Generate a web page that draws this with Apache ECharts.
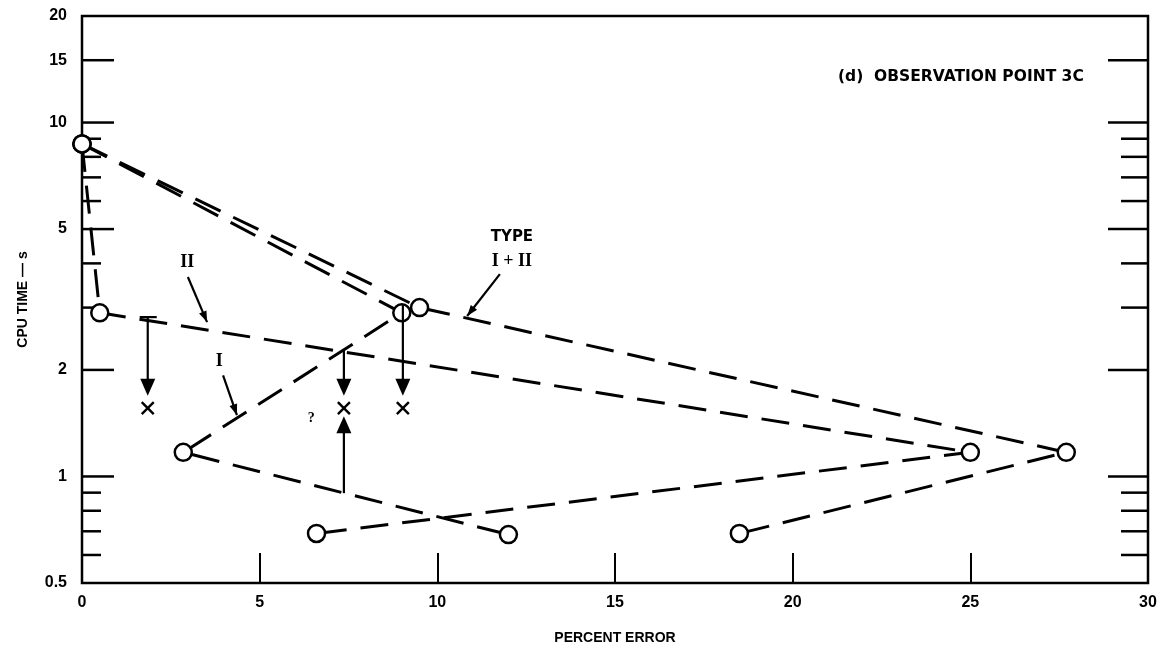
<!DOCTYPE html>
<html><head><meta charset="utf-8">
<script src="https://cdn.jsdelivr.net/npm/echarts@6/dist/echarts.min.js"></script>
<style>html,body{margin:0;padding:0;background:#fff}#c{width:1163px;height:656px}</style>
</head><body><div id="c"></div>
<script>
// ---- data ----
const typeI    = [[0, 8.7], [9.0, 2.9], [2.85, 1.17], [12.0, 0.685]];
const typeII   = [[0, 8.7], [0.5, 2.9], [25.0, 1.17], [6.6, 0.69]];
const typeI_II = [[0, 8.7], [9.5, 3.0], [27.7, 1.17], [18.5, 0.69]];
const xMarks   = [[1.85, 1.56], [7.37, 1.56], [9.03, 1.56]];
// vertical arrows: x, from y, to y (tip)
const vArrows  = [[1.85, 2.82, 1.69], [7.37, 2.28, 1.69], [7.37, 0.897, 1.48], [9.03, 3.05, 1.69]];
// T-bar at top of first arrow
const tBars    = [[1.85, 2.82]];
// label pointers: x1, y1, x2, y2 (tip)
const pointers = [[2.98, 3.66, 3.52, 2.73], [3.97, 1.93, 4.36, 1.49], [11.76, 3.73, 10.84, 2.84]];
const noteText = ['II', 'I', 'TYPE', 'I + II', '?'];
const noteX    = [2.96, 3.86, 12.1, 12.1, 6.45];
const noteY    = [4.04, 2.12, 4.75, 4.06, 1.46];
const noteSerif= [1, 1, 0, 1, 1];
const yTicksMajor = [1, 2, 5, 10, 15];
const yTicksMinor = [0.6, 0.7, 0.8, 0.9, 3, 4, 6, 7, 8, 9];
const yTickLabels = [0.5, 1, 2, 5, 10, 15, 20];

const BLACK = '#000';
const chart = echarts.init(document.getElementById('c'), null, {renderer: 'canvas'});

const lineSeries = (name, data) => ({
  name, type: 'line', data, clip: false, z: 3,
  symbol: 'circle', symbolSize: 17, showSymbol: true,
  lineStyle: {color: BLACK, width: 3, type: [28, 14]},
  itemStyle: {color: '#fff', borderColor: BLACK, borderWidth: 2.5},
  emphasis: {disabled: true}, silent: true
});

function arrowHead(tip, from, len, wid) {
  const dx = tip[0] - from[0], dy = tip[1] - from[1];
  const d = Math.sqrt(dx * dx + dy * dy) || 1;
  const ux = dx / d, uy = dy / d;
  const bx = tip[0] - ux * len, by = tip[1] - uy * len;
  return [[tip[0], tip[1]], [bx - uy * wid / 2, by + ux * wid / 2], [bx + uy * wid / 2, by - ux * wid / 2]];
}

const option = {
  animation: false,
  backgroundColor: '#fff',
  grid: {left: 82, right: 15, top: 16, bottom: 73, show: true, borderColor: BLACK, borderWidth: 2.5},
  xAxis: {
    type: 'value', min: 0, max: 30, interval: 5,
    axisLine: {show: false},
    axisTick: {show: true, inside: true, length: 30, lineStyle: {color: BLACK, width: 2}},
    axisLabel: {color: BLACK, fontFamily: 'Liberation Sans', fontWeight: 'bold', fontSize: 16, margin: 12},
    splitLine: {show: false},
    name: 'PERCENT ERROR', nameLocation: 'middle', nameGap: 48,
    nameTextStyle: {color: BLACK, fontFamily: 'Liberation Sans', fontWeight: 'bold', fontSize: 14}
  },
  yAxis: {
    type: 'log', logBase: 10, min: 0.5, max: 20,
    axisLine: {show: false}, axisTick: {show: false}, axisLabel: {show: false}, splitLine: {show: false},
    name: 'CPU TIME — s', nameLocation: 'middle', nameGap: 52, nameRotate: 90,
    nameTextStyle: {color: BLACK, fontFamily: 'Liberation Sans', fontWeight: 'bold', fontSize: 14}
  },
  graphic: [{
    type: 'text', left: 838, top: 69, silent: true,
    style: {text: '(d)  OBSERVATION POINT 3C', fill: BLACK, font: 'bold 15.5px "DejaVu Sans"'}
  }],
  series: [
    lineSeries('I', typeI),
    lineSeries('II', typeII),
    lineSeries('I+II', typeI_II),
    { // y ticks both sides
      type: 'custom', silent: true, z: 2, clip: false,
      data: yTicksMajor.map(v => [0, v, 1]).concat(yTicksMinor.map(v => [0, v, 0])),
      renderItem(params, api) {
        const cs = params.coordSys;
        const y = api.coord([0, api.value(1)])[1];
        const major = api.value(2) === 1;
        const L = major ? 32 : 19, R = major ? 40 : 27;
        return {type: 'group', children: [
          {type: 'line', shape: {x1: cs.x, y1: y, x2: cs.x + L, y2: y}, style: {stroke: BLACK, lineWidth: 2.5}},
          {type: 'line', shape: {x1: cs.x + cs.width, y1: y, x2: cs.x + cs.width - R, y2: y}, style: {stroke: BLACK, lineWidth: 2.5}}
        ]};
      }
    },
    { // y tick labels
      type: 'custom', silent: true, clip: false,
      data: yTickLabels.map(v => [0, v]),
      renderItem(params, api) {
        const cs = params.coordSys;
        const v = api.value(1);
        const y = api.coord([0, v])[1];
        return {type: 'text', x: cs.x - 15, y: y,
          style: {text: String(v), fill: BLACK, font: 'bold 16px "Liberation Sans"', align: 'right', verticalAlign: 'middle'}};
      }
    },
    { // vertical arrows
      type: 'custom', silent: true, z: 5, clip: false,
      data: vArrows,
      renderItem(params, api) {
        const x = api.value(0);
        const p1 = api.coord([x, api.value(1)]);
        const p2 = api.coord([x, api.value(2)]);
        const dir = p2[1] > p1[1] ? 1 : -1;
        const base = [p2[0], p2[1] - dir * 16];
        return {type: 'group', children: [
          {type: 'line', shape: {x1: p1[0], y1: p1[1], x2: base[0], y2: base[1]}, style: {stroke: BLACK, lineWidth: 2.2}},
          {type: 'polygon', shape: {points: arrowHead(p2, p1, 17, 15)}, style: {fill: BLACK}}
        ]};
      }
    },
    { // T bars
      type: 'custom', silent: true, z: 5, clip: false,
      data: tBars,
      renderItem(params, api) {
        const p = api.coord([api.value(0), api.value(1)]);
        return {type: 'line', shape: {x1: p[0] - 8, y1: p[1], x2: p[0] + 9, y2: p[1]}, style: {stroke: BLACK, lineWidth: 2.2}};
      }
    },
    { // X marks
      type: 'custom', silent: true, z: 5, clip: false,
      data: xMarks,
      renderItem(params, api) {
        const p = api.coord([api.value(0), api.value(1)]);
        const s = 6;
        return {type: 'group', children: [
          {type: 'line', shape: {x1: p[0] - s, y1: p[1] - s, x2: p[0] + s, y2: p[1] + s}, style: {stroke: BLACK, lineWidth: 2.4}},
          {type: 'line', shape: {x1: p[0] + s, y1: p[1] - s, x2: p[0] - s, y2: p[1] + s}, style: {stroke: BLACK, lineWidth: 2.4}}
        ]};
      }
    },
    { // label pointers
      type: 'custom', silent: true, z: 5, clip: false,
      data: pointers,
      renderItem(params, api) {
        const p1 = api.coord([api.value(0), api.value(1)]);
        const p2 = api.coord([api.value(2), api.value(3)]);
        return {type: 'group', children: [
          {type: 'line', shape: {x1: p1[0], y1: p1[1], x2: p2[0], y2: p2[1]}, style: {stroke: BLACK, lineWidth: 2.2}},
          {type: 'polygon', shape: {points: arrowHead(p2, p1, 11, 8)}, style: {fill: BLACK}}
        ]};
      }
    },
    { // annotation labels
      type: 'custom', silent: true, z: 5, clip: false,
      data: noteText.map((t, i) => [noteX[i], noteY[i], i]),
      renderItem(params, api) {
        const i = api.value(2);
        const p = api.coord([api.value(0), api.value(1)]);
        const serif = noteSerif[i] === 1;
        const size = noteText[i] === '?' ? 14 : (serif ? 18 : 15);
        const fam = serif ? '"Liberation Serif"' : '"DejaVu Sans"';
        return {type: 'text', x: p[0], y: p[1],
          style: {text: noteText[i], fill: BLACK, align: 'center', verticalAlign: 'middle',
            font: 'bold ' + size + 'px ' + fam}};
      }
    }
  ]
};
chart.setOption(option);
</script></body></html>
